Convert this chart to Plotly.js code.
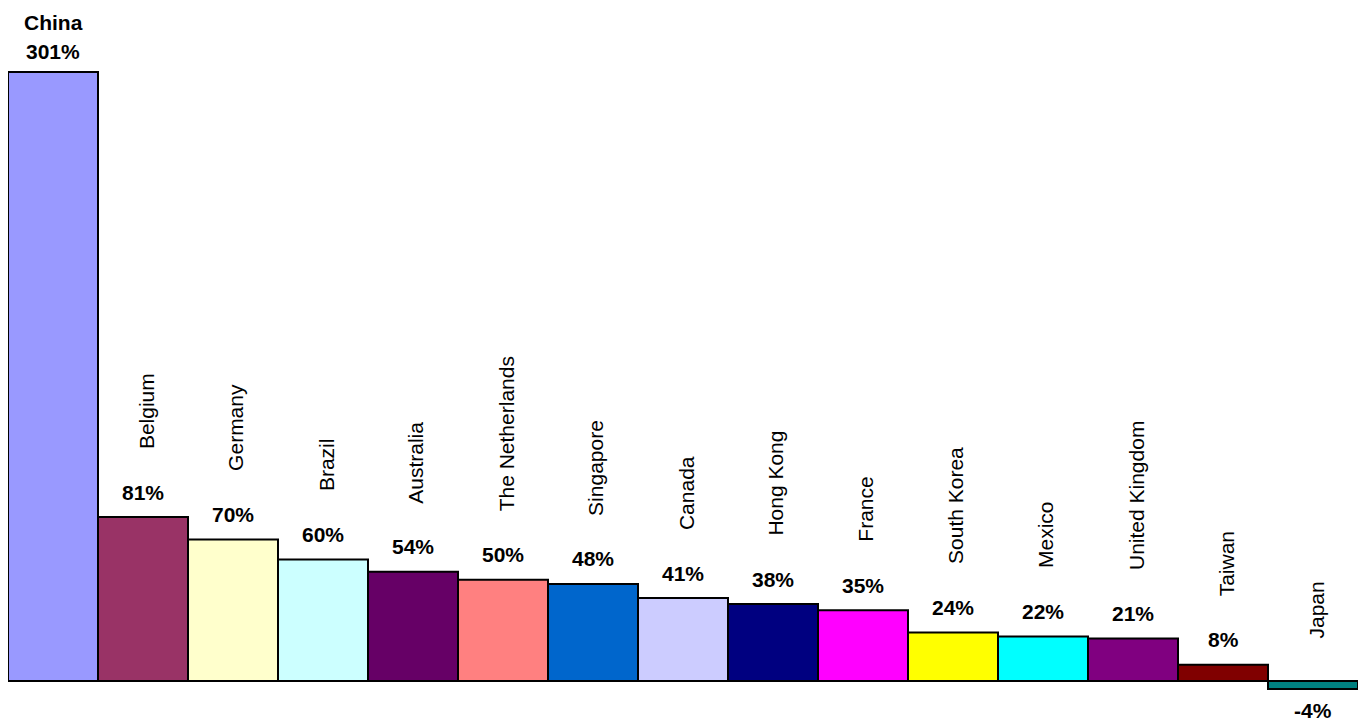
<!DOCTYPE html>
<html>
<head>
<meta charset="utf-8">
<script src="https://cdn.plot.ly/plotly-3.0.1.min.js"></script>
<style>
html, body { margin: 0; padding: 0; background: #ffffff; }
#chart { width: 1359px; height: 721px; }
</style>
</head>
<body>
<div id="chart"></div>
<script>
const countries = ["China", "Belgium", "Germany", "Brazil", "Australia", "The Netherlands", "Singapore", "Canada", "Hong Kong", "France", "South Korea", "Mexico", "United Kingdom", "Taiwan", "Japan"];
const values = [301, 81, 70, 60, 54, 50, 48, 41, 38, 35, 24, 22, 21, 8, -4];
const valueLabels = ["301%", "81%", "70%", "60%", "54%", "50%", "48%", "41%", "38%", "35%", "24%", "22%", "21%", "8%", "-4%"];
const barColors = ["#9999FF", "#993366", "#FFFFCC", "#CCFFFF", "#660066", "#FF8080", "#0066CC", "#CCCCFF", "#000080", "#FF00FF", "#FFFF00", "#00FFFF", "#800080", "#800000", "#008080"];

const FONT = "Arial, 'Liberation Sans', Helvetica, sans-serif";
const xIdx = countries.map((c, i) => i);

const trace = {
  type: "bar",
  x: xIdx,
  y: values,
  marker: { color: barColors, line: { color: "#000000", width: 2 } },
  hoverinfo: "skip",
  cliponaxis: false
};

const annotations = [];
const maxVal = Math.max(...values);
values.forEach((v, i) => {
  const pos = v >= 0;
  annotations.push({
    x: i, y: v, xref: "x", yref: "y",
    text: "<b>" + valueLabels[i] + "</b>",
    showarrow: false,
    xanchor: "center", yanchor: "middle",
    yshift: pos ? (v === maxVal ? 21 : 25) : -21,
    font: { family: FONT, size: 21, color: "#000000" }
  });
  if (v === maxVal) {
    annotations.push({
      x: i, y: v, xref: "x", yref: "y",
      text: "<b>" + countries[i] + "</b>",
      showarrow: false,
      xanchor: "center", yanchor: "middle",
      yshift: 50,
      font: { family: FONT, size: 21, color: "#000000" }
    });
  } else {
    annotations.push({
      x: i, y: Math.max(v, 0), xref: "x", yref: "y",
      text: countries[i],
      textangle: -90,
      showarrow: false,
      xanchor: "center", yanchor: "bottom",
      xshift: 3,
      yshift: pos ? 66 : 40,
      font: { family: FONT, size: 21, color: "#000000" }
    });
  }
});

const layout = {
  width: 1359, height: 721,
  margin: { l: 8, r: 1, t: 0, b: 0 },
  paper_bgcolor: "#ffffff", plot_bgcolor: "#ffffff",
  showlegend: false,
  bargap: 0,
  xaxis: { range: [-0.5, 14.5], visible: false, fixedrange: true },
  yaxis: { range: [-19.77, 336.6], visible: false, fixedrange: true, zeroline: false },
  annotations: annotations,
  font: { family: FONT }
};

Plotly.newPlot("chart", [trace], layout, { displayModeBar: false, staticPlot: true });
</script>
</body>
</html>
